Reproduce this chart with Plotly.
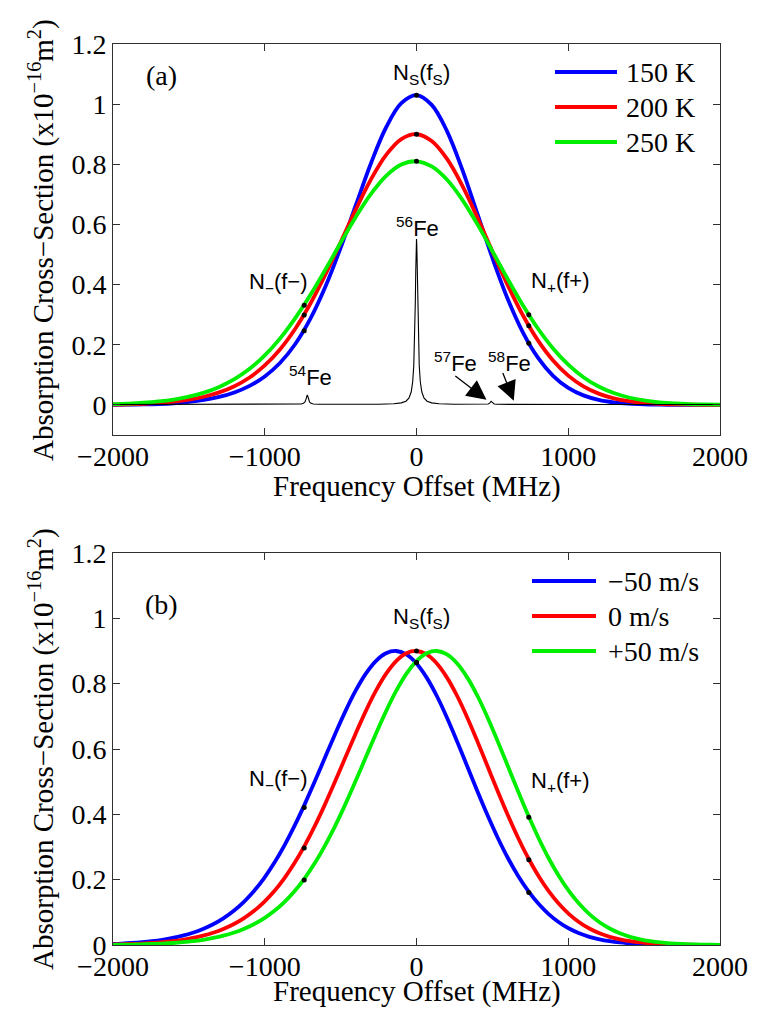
import plotly.graph_objects as go

# ---------------- data ----------------
# (a) absorption cross-section vs frequency offset, sampled every 100 MHz
freq_a = list(range(-2000, 2001, 100))
xs_150K = [0.0004, 0.0008, 0.0016, 0.0031, 0.0056, 0.0098, 0.0165, 0.0266, 0.0414, 0.0631,
           0.0945, 0.1392, 0.2017, 0.2859, 0.3936, 0.5224, 0.6639, 0.8037, 0.9232, 1.0033,
           1.0300,
           0.9976, 0.9113, 0.7849, 0.6375, 0.4887, 0.3538, 0.2422, 0.1571, 0.0967, 0.0566,
           0.0317, 0.0169, 0.0087, 0.0043, 0.0020, 0.0009, 0.0004, 0.0002, 0.0001, 0.0000]
xs_200K = [0.0012, 0.0022, 0.0039, 0.0066, 0.0108, 0.0174, 0.0272, 0.0416, 0.0622, 0.0913,
           0.1312, 0.1844, 0.2526, 0.3364, 0.4340, 0.5408, 0.6495, 0.7500, 0.8314, 0.8838,
           0.9000,
           0.8774, 0.8187, 0.7309, 0.6243, 0.5103, 0.3992, 0.2990, 0.2146, 0.1476, 0.0974,
           0.0617, 0.0375, 0.0220, 0.0124, 0.0067, 0.0035, 0.0018, 0.0009, 0.0004, 0.0002]
xs_250K = [0.0026, 0.0044, 0.0072, 0.0115, 0.0179, 0.0273, 0.0407, 0.0596, 0.0854, 0.1199,
           0.1645, 0.2203, 0.2876, 0.3651, 0.4504, 0.5390, 0.6250, 0.7015, 0.7616, 0.7991,
           0.8100,
           0.7929, 0.7494, 0.6836, 0.6019, 0.5115, 0.4196, 0.3323, 0.2540, 0.1875, 0.1338,
           0.0922, 0.0614, 0.0396, 0.0247, 0.0149, 0.0087, 0.0049, 0.0027, 0.0015, 0.0008]

# natural-abundance Fe spectrum (no Doppler broadening)
spec_freq = [-2000, -1200, -900, -800, -760, -745, -735, -728, -723, -720, -717, -712, -705, -695, -680, -640, -550, -400,
             -250, -150, -100, -70, -50, -35, -25, -18, -12, -8, -5, -3, -1.5, 0, 1.5, 3, 5, 8, 12, 18, 25, 35, 50, 70, 100, 150, 250,
             380, 452, 472, 482, 488, 492, 496, 502, 512, 532, 600, 800, 1200, 2000]
spec_val = [0.0012, 0.0013, 0.0015, 0.0018, 0.0032, 0.0052, 0.0100, 0.0194, 0.0295, 0.0335, 0.0295, 0.0194, 0.0100, 0.0052, 0.0032, 0.0020, 0.0018, 0.0019,
            0.0024, 0.0039, 0.0069, 0.0125, 0.0227, 0.0430, 0.0774, 0.1312, 0.2269, 0.3369, 0.4415, 0.5061, 0.5395, 0.5515, 0.5395, 0.5061, 0.4415, 0.3369, 0.2269, 0.1312, 0.0774, 0.0430, 0.0227, 0.0125, 0.0069, 0.0039, 0.0024,
            0.0019, 0.0020, 0.0032, 0.0060, 0.0099, 0.0117, 0.0099, 0.0060, 0.0032, 0.0020, 0.0017, 0.0015, 0.0013, 0.0012]

# three-frequency sampling points (f-, fS, f+)
probe_freq = [-740, 0, 740]
probe_150K = [0.247, 1.030, 0.205]
probe_200K = [0.299, 0.900, 0.263]
probe_250K = [0.331, 0.810, 0.300]

# (b) 200 K profile for three line-of-sight winds, sampled every 67 MHz
freq_b = list(range(-2010, 2011, 67))
xs_m50 = [0.0030, 0.0043, 0.0061, 0.0086, 0.0118, 0.0160, 0.0215, 0.0286, 0.0376, 0.0491,
          0.0635, 0.0816, 0.1040, 0.1314, 0.1646, 0.2043, 0.2508, 0.3043, 0.3646, 0.4306,
          0.5011, 0.5739, 0.6463, 0.7153, 0.7777, 0.8299, 0.8692, 0.8931, 0.9000, 0.8894,
          0.8617, 0.8185, 0.7622, 0.6958, 0.6226, 0.5462, 0.4697, 0.3961, 0.3275, 0.2655,
          0.2111, 0.1646, 0.1260, 0.0946, 0.0697, 0.0504, 0.0358, 0.0250, 0.0171, 0.0116,
          0.0077, 0.0050, 0.0032, 0.0020, 0.0013, 0.0008, 0.0005, 0.0003, 0.0002, 0.0001, 0.0000]
xs_0 = [0.0014, 0.0021, 0.0030, 0.0043, 0.0061, 0.0086, 0.0118, 0.0160, 0.0215, 0.0286,
        0.0376, 0.0491, 0.0635, 0.0816, 0.1040, 0.1314, 0.1646, 0.2043, 0.2508, 0.3043,
        0.3646, 0.4306, 0.5011, 0.5739, 0.6463, 0.7153, 0.7777, 0.8299, 0.8692, 0.8931,
        0.9000,
        0.8894, 0.8617, 0.8185, 0.7622, 0.6958, 0.6226, 0.5462, 0.4697, 0.3961, 0.3275,
        0.2655, 0.2111, 0.1646, 0.1260, 0.0946, 0.0697, 0.0504, 0.0358, 0.0250, 0.0171,
        0.0116, 0.0077, 0.0050, 0.0032, 0.0020, 0.0013, 0.0008, 0.0005, 0.0003, 0.0002]
xs_p50 = [0.0006, 0.0009, 0.0014, 0.0021, 0.0030, 0.0043, 0.0061, 0.0086, 0.0118, 0.0160,
          0.0215, 0.0286, 0.0376, 0.0491, 0.0635, 0.0816, 0.1040, 0.1314, 0.1646, 0.2043,
          0.2508, 0.3043, 0.3646, 0.4306, 0.5011, 0.5739, 0.6463, 0.7153, 0.7777, 0.8299,
          0.8692, 0.8931, 0.9000, 0.8894, 0.8617, 0.8185, 0.7622, 0.6958, 0.6226, 0.5462,
          0.4697, 0.3961, 0.3275, 0.2655, 0.2111, 0.1646, 0.1260, 0.0946, 0.0697, 0.0504,
          0.0358, 0.0250, 0.0171, 0.0116, 0.0077, 0.0050, 0.0032, 0.0020, 0.0013, 0.0008, 0.0005]
probe_m50 = [0.421, 0.865, 0.161]
probe_0 = [0.297, 0.900, 0.261]
probe_p50 = [0.199, 0.865, 0.391]

labels_a = ["150 K", "200 K", "250 K"]
labels_b = ["\u221250 m/s", "0 m/s", "+50 m/s"]
colors = ["#0000ff", "#ff0000", "#00ee00"]

x_ticks = [-2000, -1000, 0, 1000, 2000]
y_ticks = [0, 0.2, 0.4, 0.6, 0.8, 1, 1.2]

SERIF = "Liberation Serif"
SANS = "Liberation Sans"
AX = "#303030"

fig = go.Figure()

# ---- panel (a)
for ys, c in zip([xs_150K, xs_200K, xs_250K], colors):
    fig.add_trace(go.Scatter(x=freq_a, y=ys, mode="lines", xaxis="x", yaxis="y",
                             line=dict(color=c, width=3.8, shape="spline", smoothing=1.0)))
fig.add_trace(go.Scatter(x=spec_freq, y=spec_val, mode="lines", xaxis="x", yaxis="y",
                         line=dict(color="black", width=1.1)))
for ys in [probe_150K, probe_200K, probe_250K]:
    fig.add_trace(go.Scatter(x=probe_freq, y=ys, mode="markers", xaxis="x", yaxis="y",
                             marker=dict(color="black", size=5)))

# ---- panel (b)
for ys, c in zip([xs_m50, xs_0, xs_p50], colors):
    fig.add_trace(go.Scatter(x=freq_b, y=ys, mode="lines", xaxis="x2", yaxis="y2",
                             line=dict(color=c, width=3.8, shape="spline", smoothing=1.0)))
for ys in [probe_m50, probe_0, probe_p50]:
    fig.add_trace(go.Scatter(x=probe_freq, y=ys, mode="markers", xaxis="x2", yaxis="y2",
                             marker=dict(color="black", size=5)))

axis_common = dict(showline=True, linecolor=AX, linewidth=1, mirror="ticks",
                   ticks="inside", ticklen=7, tickcolor=AX, tickwidth=1,
                   showgrid=False, zeroline=False,
                   tickfont=dict(family=SERIF, size=28, color="black"))

# pixel layout: plot boxes at x 113..720, panel a y 44..435, panel b y 553..945
W, H = 768, 1016
ML, MR, MT, MB = 113, 48, 44, 71
PW, PH = W - ML - MR, H - MT - MB


def px(x):
    return (x - ML) / PW


def py(y):
    return (H - MB - y) / PH


fig.update_layout(
    width=W, height=H, margin=dict(l=ML, r=MR, t=MT, b=MB),
    paper_bgcolor="white", plot_bgcolor="white", showlegend=False,
    xaxis=dict(domain=[0, 1], anchor="y", range=[-2000, 2000], tickvals=x_ticks,
               ticklabelstandoff=-4, **axis_common),
    yaxis=dict(domain=[py(435), 1], anchor="x", range=[-0.1, 1.2], tickvals=y_ticks, **axis_common),
    xaxis2=dict(domain=[0, 1], anchor="y2", range=[-2000, 2000], tickvals=x_ticks,
                ticklabelstandoff=-4, **axis_common),
    yaxis2=dict(domain=[0, py(553)], anchor="x2", range=[0, 1.2], tickvals=y_ticks, **axis_common),
)

ann = []
ytitle = "Absorption Cross\u2212Section (x10<sup>\u221216</sup>m<sup>2</sup>)"
for yc in [py(240), py(749)]:
    ann.append(dict(text=ytitle, xref="paper", yref="paper", x=px(42), y=yc, textangle=-90,
                    showarrow=False, xanchor="center", yanchor="middle",
                    font=dict(family=SERIF, size=29, color="black")))
for yc in [py(486), py(992)]:
    ann.append(dict(text="Frequency Offset (MHz)", xref="paper", yref="paper", x=px(417), y=yc,
                    showarrow=False, xanchor="center", yanchor="middle",
                    font=dict(family=SERIF, size=29, color="black")))

# panel tags
ann.append(dict(text="(a)", xref="x", yref="y", x=-1680, y=1.096, showarrow=False,
                font=dict(family=SERIF, size=28, color="black")))
ann.append(dict(text="(b)", xref="x2", yref="y2", x=-1680, y=1.041, showarrow=False,
                font=dict(family=SERIF, size=28, color="black")))

sans = dict(family=SANS, size=22, color="black")
for xr, yr, y_s, y_m, y_p in [("x", "y", 1.10, 0.405, 0.409), ("x2", "y2", 1.0, 0.505, 0.499)]:
    ann.append(dict(text="N<sub>S</sub>(f<sub>S</sub>)", xref=xr, yref=yr, x=35, y=y_s,
                    showarrow=False, font=sans))
    ann.append(dict(text="N<sub>\u2212</sub>(f\u2212)", xref=xr, yref=yr, x=-910, y=y_m,
                    showarrow=False, font=sans))
    ann.append(dict(text="N<sub>+</sub>(f+)", xref=xr, yref=yr, x=950, y=y_p,
                    showarrow=False, font=sans))

# isotope labels
ann.append(dict(text="<sup>56</sup>Fe", xref="x", yref="y", x=8, y=0.59, showarrow=False, font=sans))
ann.append(dict(text="<sup>54</sup>Fe", xref="x", yref="y", x=-696, y=0.095, showarrow=False, font=sans))
ann.append(dict(text="<sup>57</sup>Fe", xref="x", yref="y", x=259, y=0.142, showarrow=False, font=sans))
ann.append(dict(text="<sup>58</sup>Fe", xref="x", yref="y", x=616, y=0.142, showarrow=False, font=sans))
ann.append(dict(text="", xref="x", yref="y", x=461, y=0.017, axref="x", ayref="y", ax=246, ay=0.10,
                showarrow=True, arrowhead=2, arrowsize=3, arrowwidth=1.3, arrowcolor="black", standoff=0))
ann.append(dict(text="", xref="x", yref="y", x=641, y=0.014, axref="x", ayref="y", ax=565, ay=0.111,
                showarrow=True, arrowhead=2, arrowsize=3, arrowwidth=1.3, arrowcolor="black", standoff=0))

# legends
shapes = []
for labels, rows, x0, x1, xt in [(labels_a, [72, 107, 142], 555, 617, 624),
                                 (labels_b, [581, 616, 651], 532, 596, 606)]:
    for lab, c, yr in zip(labels, colors, rows):
        shapes.append(dict(type="line", xref="paper", yref="paper", x0=px(x0), x1=px(x1),
                           y0=py(yr), y1=py(yr), line=dict(color=c, width=3.8)))
        ann.append(dict(text=lab, xref="paper", yref="paper", x=px(xt), y=py(yr),
                        xanchor="left", yanchor="middle", showarrow=False,
                        font=dict(family=SERIF, size=28, color="black")))

fig.update_layout(annotations=ann, shapes=shapes)
fig.write_html("out.html")
